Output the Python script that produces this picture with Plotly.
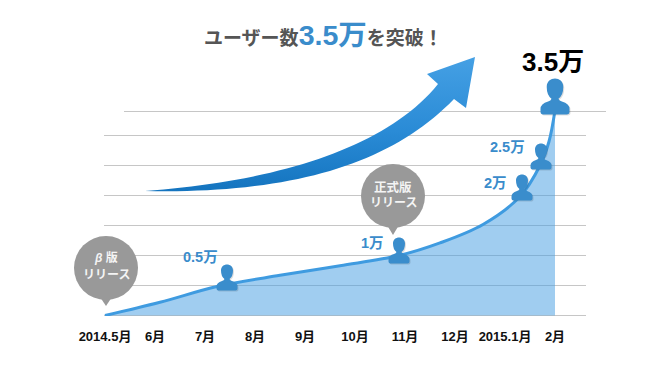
import plotly.graph_objects as go

# ---- data ----
month_labels = ["2014.5月", "6月", "7月", "8月", "9月", "10月", "11月", "12月", "2015.1月", "2月"]
curve_month = [0, 1.1, 2.24, 3.5, 4.7, 5.88, 6.7, 7.56, 8.3, 8.7, 8.88, 9]
curve_users = [0, 0.22, 0.483, 0.67, 0.83, 1.0, 1.21, 1.517, 1.983, 2.5, 2.9, 3.42]
grid_users = [0, 0.5, 1, 1.5, 2, 2.5, 3]
milestone_month = [2.44, 5.88, 8.34, 8.72, 9]
milestone_users = [0.5, 1, 2, 2.5, 3.5]
milestone_text = ["0.5万", "1万", "2万", "2.5万", "3.5万"]

# ---- page geometry: plot area fills the page above the tick labels ----
W, H, BOTTOM = 670, 380, 64
X0_PX, PX_PER_MONTH = 105, 50
Y0_PX, PX_PER_UNIT = 315.5, 60
x_of = lambda px: (px - X0_PX) / PX_PER_MONTH
y_of = lambda py: (Y0_PX - py) / PX_PER_UNIT

BLUE_TXT = "#3a8ccb"
PERSON = "#3a8dcc"
FONT = "'Liberation Sans', 'Noto Sans CJK JP', sans-serif"


# decorative arrow outline (page pixels), two Bezier edges joined by the head
def bezier(p0, p1, p2, p3, n=40):
    pts = []
    for i in range(n + 1):
        t = i / n
        a, b, c, d = (1 - t) ** 3, 3 * t * (1 - t) ** 2, 3 * t * t * (1 - t), t ** 3
        pts.append((a * p0[0] + b * p1[0] + c * p2[0] + d * p3[0], a * p0[1] + b * p1[1] + c * p2[1] + d * p3[1]))
    return pts


arrow_px = (bezier((145, 191), (270, 182), (385, 150), (438, 84))
            + [(427, 74), (475, 57), (466, 108)]
            + bezier((454, 99), (390, 165), (290, 194), (145, 191)))

fig = go.Figure()

# grid
shapes = []
for v in grid_users:
    shapes.append(dict(type="line", xref="x", yref="y", x0=x_of(104), x1=x_of(586), y0=v, y1=v,
                       line=dict(color="#c6c6c6", width=1), layer="below"))
shapes.append(dict(type="line", xref="x", yref="y", x0=x_of(124), x1=x_of(606), y0=y_of(111.5), y1=y_of(111.5),
                   line=dict(color="#c6c6c6", width=1), layer="below"))

# area + curve
fig.add_trace(go.Scatter(x=curve_month, y=curve_users, mode="lines", fill="tozeroy",
                         fillcolor="rgba(65,155,225,0.5)",
                         line=dict(color="#3f9be0", width=3, shape="spline", smoothing=1.0),
                         hoverinfo="skip", showlegend=False))

# arrow
fig.add_trace(go.Scatter(x=[x_of(p[0]) for p in arrow_px], y=[y_of(p[1]) for p in arrow_px],
                         mode="none", fill="toself",
                         fillgradient=dict(type="vertical",
                                           colorscale=[[0, "#1474bf"], [0.45, "#2a8bd6"], [1, "#45a0e4"]]),
                         hoverinfo="skip", showlegend=False))


def person_path(s, dy, dx=0.0):
    pts = [("M", -8.5, 0), ("L", 8.5, 0), ("Q", 10.5, 0, 10.5, 2), ("L", 10.5, 4), ("Q", 10.5, 8, 5, 9.5),
           ("Q", 3, 10, 2.5, 11.5), ("Q", 6, 14, 6, 20), ("C", 6, 24, 3, 26, 0, 26), ("C", -3, 26, -6, 24, -6, 20),
           ("Q", -6, 14, -2.5, 11.5), ("Q", -3, 10, -5, 9.5), ("Q", -10.5, 8, -10.5, 4), ("L", -10.5, 2),
           ("Q", -10.5, 0, -8.5, 0)]
    out = []
    for p in pts:
        nums = p[1:]
        coords = [(nums[i] * s + dx, nums[i + 1] * s + dy) for i in range(0, len(nums), 2)]
        out.append(p[0] + " ".join(f"{a:.2f},{b:.2f}" for a, b in coords))
    return " ".join(out) + " Z"


person_scale = [1, 1, 1, 1, 1.38]
person_drop = [-5, -8, -5, -4, -9]
for m, v, s, d in zip(milestone_month, milestone_users, person_scale, person_drop):
    for col, ox, oy in (("rgba(0,0,0,0.13)", 1, -1), (PERSON, 0, 0)):
        shapes.append(dict(type="path", xref="x", yref="y", xsizemode="pixel", ysizemode="pixel",
                           xanchor=m, yanchor=v, path=person_path(s, d + oy, ox),
                           fillcolor=col, line=dict(width=0), layer="above"))

# speech bubbles
bubbles = [(106, 268, 306), (393, 196, 235)]
for cx, cy, tip in bubbles:
    shapes.append(dict(type="circle", xref="x", yref="y", xsizemode="pixel", ysizemode="pixel",
                       xanchor=x_of(cx), yanchor=y_of(cy), x0=-32, x1=32, y0=-32, y1=32,
                       fillcolor="#999999", line=dict(width=0), layer="above"))
    shapes.append(dict(type="path", xref="x", yref="y", xsizemode="pixel", ysizemode="pixel",
                       xanchor=x_of(cx), yanchor=y_of(cy),
                       path=f"M -6,-29 L 0,{cy - tip} L 6,-29 Z",
                       fillcolor="#999999", line=dict(width=0), layer="above"))


def label(px, py, text, size, color, **kw):
    return dict(xref="paper", yref="paper", x=px / W, y=1 - py / (H - BOTTOM), text=text, showarrow=False,
                xanchor="center", yanchor="middle", font=dict(family=FONT, size=size, color=color), **kw)


label_pos = [(200.5, 257), (372, 243), (495, 183), (508, 147), (553, 62)]
label_size = [14.5, 14.5, 14.5, 14.5, 26]
label_color = [BLUE_TXT] * 4 + ["#000000"]
annotations = [label(p[0], p[1], f"<b>{t}</b>", s, c)
               for p, t, s, c in zip(label_pos, milestone_text, label_size, label_color)]
annotations += [
    label(323, 34.5, "<b>ユーザー数<span style='font-size:28.5px;color:#3a8ccb'>3.5万</span>を突破！</b>", 19, "#555555"),
    label(106, 258, "<b><i>β</i> 版</b>", 12, "#f4f4f4"),
    label(106, 275, "<b>リリース</b>", 12, "#f4f4f4"),
    label(393, 188, "<b>正式版</b>", 12.5, "#f4f4f4"),
    label(393, 203, "<b>リリース</b>", 12, "#f4f4f4"),
]

fig.update_layout(
    width=W, height=H, autosize=False,
    margin=dict(l=0, r=0, t=0, b=BOTTOM, pad=0),
    paper_bgcolor="white", plot_bgcolor="white",
    shapes=shapes, annotations=annotations, showlegend=False,
    xaxis=dict(range=[x_of(0), x_of(W)], tickvals=list(range(len(month_labels))), ticktext=month_labels,
               showgrid=False, zeroline=False, showline=False, ticks="outside", ticklen=8,
               tickcolor="rgba(0,0,0,0)", tickfont=dict(family=FONT, size=13, color="#111111", weight="bold")),
    yaxis=dict(range=[y_of(H - BOTTOM), y_of(0)], showgrid=False, zeroline=False, showline=False,
               showticklabels=False, ticks=""),
)
fig.write_html("out.html", config={"displayModeBar": False},
               post_script="document.body.style.margin='0';document.body.style.overflow='hidden';")
